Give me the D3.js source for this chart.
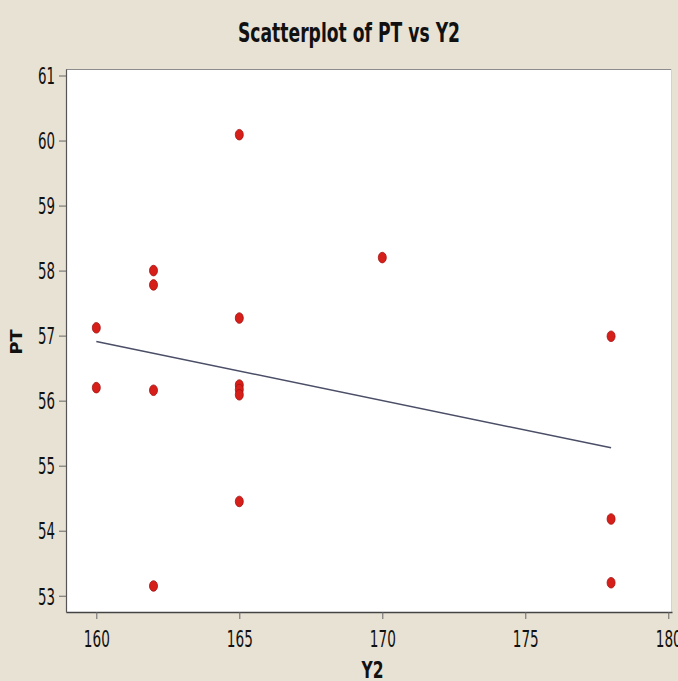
<!DOCTYPE html>
<html>
<head>
<meta charset="utf-8">
<script src="https://cdn.jsdelivr.net/npm/d3@7/dist/d3.min.js"></script>
<style>
  html, body { margin: 0; padding: 0; background: #e8e2d4; }
  svg { display: block; }
  text { font-family: "DejaVu Sans", Verdana, sans-serif; fill: #111; }
</style>
</head>
<body>
<svg id="chart" width="678" height="681"></svg>
<script>
// Observations: Y2 (x) and PT (y)
const y2Values = [160, 160, 162, 162, 162, 162, 165, 165, 165, 165, 165, 165, 170, 178, 178, 178];
const ptValues = [57.12, 56.20, 58.00, 57.78, 56.16, 53.15, 60.09, 57.27, 56.24, 56.17, 56.09, 54.45, 58.20, 56.99, 54.18, 53.20];

const xTicks = [160, 165, 170, 175, 180];
const yTicks = [53, 54, 55, 56, 57, 58, 59, 60, 61];

const W = 678, H = 681;
const box = { left: 66, right: 672, top: 69, bottom: 612 };

const svg = d3.select("#chart");

const x = d3.scaleLinear().domain([158.94, 180.13]).range([box.left, box.right]);
const y = d3.scaleLinear().domain([52.75, 61.10]).range([box.bottom, box.top]);

// plot area
svg.append("rect")
  .attr("x", box.left).attr("y", box.top)
  .attr("width", box.right - box.left).attr("height", box.bottom - box.top)
  .attr("fill", "#ffffff");
svg.append("line")
  .attr("x1", box.left).attr("x2", box.right).attr("y1", box.top + 0.5).attr("y2", box.top + 0.5)
  .attr("stroke", "#8c8c8c").attr("stroke-width", 1.2);
svg.append("line")
  .attr("x1", box.right - 0.5).attr("x2", box.right - 0.5).attr("y1", box.top).attr("y2", box.bottom)
  .attr("stroke", "#d8d2c4").attr("stroke-width", 1);

// axes
const xAxis = svg.append("g")
  .attr("transform", `translate(0,${box.bottom})`)
  .call(d3.axisBottom(x).tickValues(xTicks).tickSize(7).tickSizeOuter(0).tickFormat(d3.format("d")));
xAxis.select(".domain").attr("stroke", "#444").attr("stroke-width", 1.6);
xAxis.selectAll(".tick line").attr("stroke", "#666");
xAxis.selectAll(".tick text")
  .attr("y", 34.5).attr("dy", null)
  .attr("font-size", 23).attr("font-family", "DejaVu Sans")
  .attr("textLength", 26).attr("lengthAdjust", "spacingAndGlyphs")
  .style("fill", "#111");

const yAxis = svg.append("g")
  .attr("transform", `translate(${box.left},0)`)
  .call(d3.axisLeft(y).tickValues(yTicks).tickSize(7).tickSizeOuter(0).tickPadding(4).tickFormat(d3.format("d")));
yAxis.select(".domain").attr("stroke", "#555").attr("stroke-width", 1.2);
yAxis.selectAll(".tick line").attr("stroke", "#666");
yAxis.selectAll(".tick text")
  .attr("dy", "0.36em")
  .attr("font-size", 23).attr("font-family", "DejaVu Sans")
  .attr("textLength", 17).attr("lengthAdjust", "spacingAndGlyphs")
  .style("fill", "#111");

// least-squares fit of PT on Y2
const mx = d3.mean(y2Values), my = d3.mean(ptValues);
let sxy = 0, sxx = 0;
y2Values.forEach((v, i) => { sxy += (v - mx) * (ptValues[i] - my); sxx += (v - mx) * (v - mx); });
const slope = sxy / sxx, intercept = my - slope * mx;
const [xmin, xmax] = d3.extent(y2Values);
svg.append("line")
  .attr("x1", x(xmin)).attr("y1", y(intercept + slope * xmin))
  .attr("x2", x(xmax)).attr("y2", y(intercept + slope * xmax))
  .attr("stroke", "#4a4e66").attr("stroke-width", 1.5);

// points
svg.append("g").selectAll("ellipse")
  .data(y2Values.map((v, i) => [v, ptValues[i]]))
  .join("ellipse")
  .attr("cx", d => x(d[0])).attr("cy", d => y(d[1]))
  .attr("rx", 4).attr("ry", 5.3)
  .attr("fill", "#d71f1a").attr("stroke", "#a51010").attr("stroke-width", 0.8);

// titles
svg.append("text")
  .attr("x", 349).attr("y", 42).attr("text-anchor", "middle")
  .attr("font-size", 27).attr("font-weight", "bold")
  .attr("textLength", 222).attr("lengthAdjust", "spacingAndGlyphs")
  .text("Scatterplot of PT vs Y2");

svg.append("text")
  .attr("x", 372.5).attr("y", 678).attr("text-anchor", "middle")
  .attr("font-size", 23).attr("font-weight", "bold")
  .attr("textLength", 22).attr("lengthAdjust", "spacingAndGlyphs")
  .text("Y2");

svg.append("text")
  .attr("transform", "translate(22,342) rotate(-90)")
  .attr("text-anchor", "middle")
  .attr("font-size", 15).attr("font-weight", "bold")
  .attr("textLength", 25).attr("lengthAdjust", "spacingAndGlyphs")
  .text("PT");
</script>
</body>
</html>
